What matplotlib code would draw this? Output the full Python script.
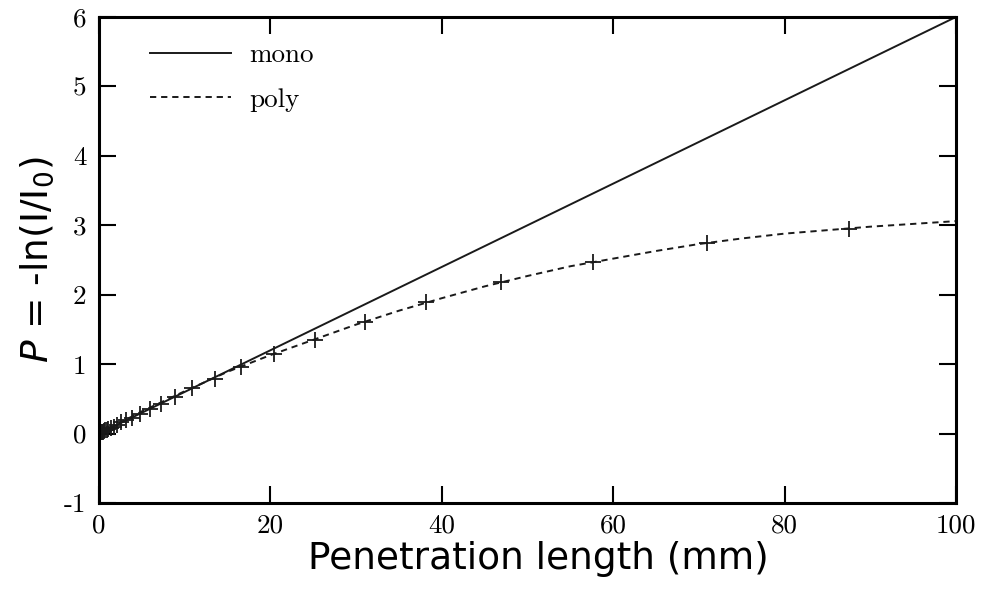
import matplotlib
matplotlib.use('Agg')
import matplotlib.pyplot as plt

plt.rcParams['axes.unicode_minus'] = False
plt.rcParams['mathtext.fontset'] = 'dejavusans'
plt.rcParams['lines.scale_dashes'] = False

# mono: straight attenuation line
mono_x = [0, 100]
mono_y = [0, 6]

# poly: beam-hardened curve (dashed)
poly_x = [0, 5, 10, 15, 20, 25, 30, 35, 40, 45, 50, 55, 60, 65, 70, 75, 80, 85, 90, 95, 100]
poly_y = [0, 0.32, 0.61, 0.89, 1.13, 1.35, 1.57, 1.77, 1.95, 2.12, 2.27, 2.41, 2.52, 2.63,
          2.73, 2.81, 2.88, 2.93, 2.98, 3.02, 3.06]

# measured points
meas_x = [87.5, 71.0, 57.7, 46.9, 38.1, 31.0, 25.2, 20.4, 16.6, 13.5, 10.9, 8.9, 7.2, 5.9,
          4.8, 3.9, 3.2, 2.6, 2.1, 1.7, 1.4, 1.1, 0.9, 0.74, 0.6, 0.49, 0.4, 0.32]
meas_y = [2.95, 2.74, 2.47, 2.18, 1.89, 1.61, 1.35, 1.15, 0.96, 0.79, 0.65, 0.52, 0.43, 0.35,
          0.28, 0.23, 0.19, 0.16, 0.13, 0.10, 0.085, 0.07, 0.055, 0.045, 0.036, 0.03, 0.024, 0.02]

x_ticks = [0, 20, 40, 60, 80, 100]
y_ticks = [-1, 0, 1, 2, 3, 4, 5, 6]

fig = plt.figure(figsize=(9.93, 5.96), dpi=100)
ax = fig.add_axes([0.0997, 0.156, 0.8630, 0.8155])

ax.plot(mono_x, mono_y, color='#1a1a1a', lw=1.4, label='mono')
ax.plot(poly_x, poly_y, color='#1a1a1a', lw=1.4, dashes=(4.5, 3.5), label='poly')
ax.plot(meas_x, meas_y, ls='none', marker='+', ms=12, mew=1.3, color='#1a1a1a')

ax.set_xlim(0, 100)
ax.set_ylim(-1, 6)
ax.set_xticks(x_ticks)
ax.set_yticks(y_ticks)
ax.tick_params(axis='both', direction='in', length=12, width=1.5, top=True, right=True)
ax.tick_params(axis='x', pad=8)
ax.tick_params(axis='y', pad=9)
for lab in ax.get_xticklabels() + ax.get_yticklabels():
    lab.set_fontfamily('cmr10')
    lab.set_fontsize(19.5)
for sp in ax.spines.values():
    sp.set_linewidth(2.2)

ax.set_xlabel('Penetration length (mm)', fontsize=27)
ax.xaxis.set_label_coords(0.513, -0.078)
ax.set_ylabel(r'$P$ = -ln(I/I$_0$)', fontsize=27, labelpad=6)

leg = ax.legend(loc='upper left', bbox_to_anchor=(0.0469, 0.968), frameon=False,
                handlelength=3.0, labelspacing=0.75, handletextpad=0.67, borderaxespad=0,
                prop={'family': 'cmr10', 'size': 19.5})

fig.savefig('out.png', dpi=100)
